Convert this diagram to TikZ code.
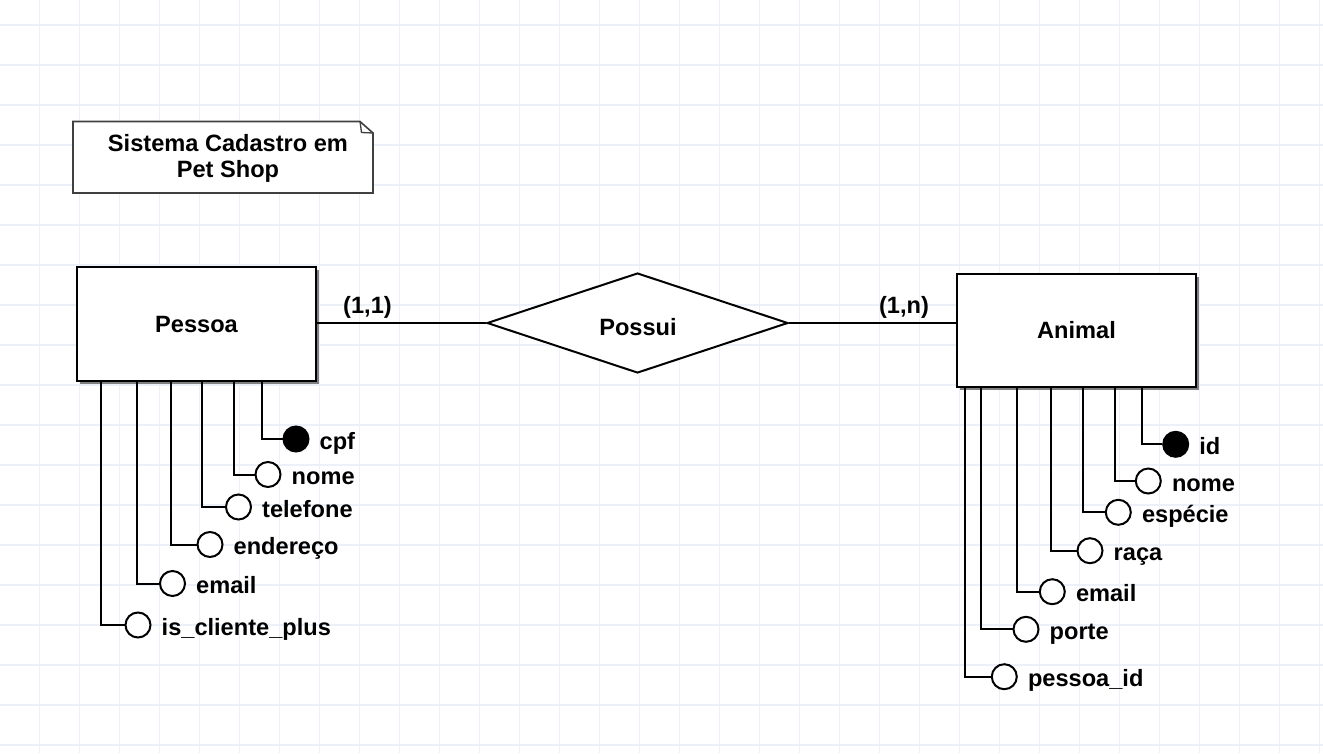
\documentclass[tikz,border=0pt]{standalone}
\usepackage{fontspec}
\setmainfont{Liberation Sans}
\usetikzlibrary{shapes.geometric,shadows,calc}
\definecolor{gridc}{HTML}{ECF1F9}
\definecolor{notec}{HTML}{404040}
\definecolor{shadc}{HTML}{808080}
\newcommand{\erfont}{\fontsize{23.6}{26}\selectfont\bfseries}
\tikzset{
  entity/.style={draw, line width=2pt, fill=white, inner sep=0pt,
    minimum width=239pt, minimum height=114pt, font=\erfont,
    drop shadow={shadow xshift=3.2pt, shadow yshift=-3.2pt, fill=shadc, opacity=1}},
  relbox/.style={diamond, draw, line width=2pt, fill=white, inner sep=0pt, aspect=3,
    minimum width=301pt, minimum height=100pt, font=\erfont},
  attr/.style={circle, draw, line width=2pt, fill=white, inner sep=0pt, minimum size=25pt},
  keyattr/.style={attr, fill=black},
  lbl/.style={inner sep=0pt, anchor=base west, font=\erfont},
  card/.style={inner sep=0pt, font=\erfont},
  conn/.style={line width=2pt},
}
\begin{document}
\begin{tikzpicture}[x=1pt,y=-1pt]
\useasboundingbox (0,0) rectangle (1323,753);
\fill[white] (0,0) rectangle (1323,753);
% grid
\foreach \k in {0,...,33} { \draw[gridc, line width=1.3pt] ({40*\k-0.5},0) -- ({40*\k-0.5},753); }
\foreach \k in {0,...,18} { \draw[gridc, line width=1.3pt] (0,{25+40*\k}) -- (1323,{25+40*\k}); }

% note
\draw[notec, line width=1.6pt, fill=white] (73,121.5) -- (360,121.5) -- (373,133) -- (373,193) -- (73,193) -- cycle;
\draw[notec, line width=1.3pt] (360,121.5) -- (361.5,132.5) -- (373,133);
\node[align=center, inner sep=0pt, font=\erfont] (note) at (228,158) {Sistema Cadastro em\\Pet Shop};

% entities and relationship
\node[entity] (pessoa) at (196.5,324) {Pessoa};
\node[entity, minimum height=113pt] (animal) at (1076.5,330.5) {Animal};
\node[relbox] (poss) at (637.5,323) {};
\node[card] (posst) at (638,327) {Possui};

\draw[conn] (pessoa.east |- poss.west) -- (poss.west);
\draw[conn] (poss.east) -- (poss.east -| animal.west);
\node[card] (c11) at (367.5,307) {(1,1)};
\node[card] (c1n) at (904,307) {(1,n)};

% Pessoa attributes
\node[keyattr] (p1) at (296,439) {};
\node[attr] (p2) at (268,474.5) {};
\node[attr] (p3) at (238.5,507) {};
\node[attr] (p4) at (210,544.5) {};
\node[attr] (p5) at (172.5,583.5) {};
\node[attr] (p6) at (138,625) {};
\draw[conn] ($(pessoa.south west)+(186,0)$) |- (p1.west);
\draw[conn] ($(pessoa.south west)+(158,0)$) |- (p2.west);
\draw[conn] ($(pessoa.south west)+(126,0)$) |- (p3.west);
\draw[conn] ($(pessoa.south west)+(95,0)$) |- (p4.west);
\draw[conn] ($(pessoa.south west)+(61,0)$) |- (p5.west);
\draw[conn] ($(pessoa.south west)+(25,0)$) |- (p6.west);
\node[lbl] (lp1) at ($(p1.east)+(10,10)$) {cpf};
\node[lbl] (lp2) at ($(p2.east)+(10,10)$) {nome};
\node[lbl] (lp3) at ($(p3.east)+(10,10)$) {telefone};
\node[lbl] (lp4) at ($(p4.east)+(10,10)$) {endereço};
\node[lbl] (lp5) at ($(p5.east)+(10,10)$) {email};
\node[lbl] (lp6) at ($(p6.east)+(10,10)$) {is\_cliente\_plus};

% Animal attributes
\node[keyattr] (a1) at (1175.7,444.3) {};
\node[attr] (a2) at (1148.3,481) {};
\node[attr] (a3) at (1118.3,512.3) {};
\node[attr] (a4) at (1090,550.7) {};
\node[attr] (a5) at (1052.3,591.7) {};
\node[attr] (a6) at (1026,629.3) {};
\node[attr] (a7) at (1004.3,676.7) {};
\draw[conn] ($(animal.south west)+(186,0)$) |- (a1.west);
\draw[conn] ($(animal.south west)+(159,0)$) |- (a2.west);
\draw[conn] ($(animal.south west)+(127,0)$) |- (a3.west);
\draw[conn] ($(animal.south west)+(95,0)$) |- (a4.west);
\draw[conn] ($(animal.south west)+(61,0)$) |- (a5.west);
\draw[conn] ($(animal.south west)+(25,0)$) |- (a6.west);
\draw[conn] ($(animal.south west)+(9,0)$) |- (a7.west);
\node[lbl] (la1) at ($(a1.east)+(10,10)$) {id};
\node[lbl] (la2) at ($(a2.east)+(10,10)$) {nome};
\node[lbl] (la3) at ($(a3.east)+(10,10)$) {espécie};
\node[lbl] (la4) at ($(a4.east)+(10,10)$) {raça};
\node[lbl] (la5) at ($(a5.east)+(10,10)$) {email};
\node[lbl] (la6) at ($(a6.east)+(10,10)$) {porte};
\node[lbl] (la7) at ($(a7.east)+(10,10)$) {pessoa\_id};
\end{tikzpicture}
\end{document}
